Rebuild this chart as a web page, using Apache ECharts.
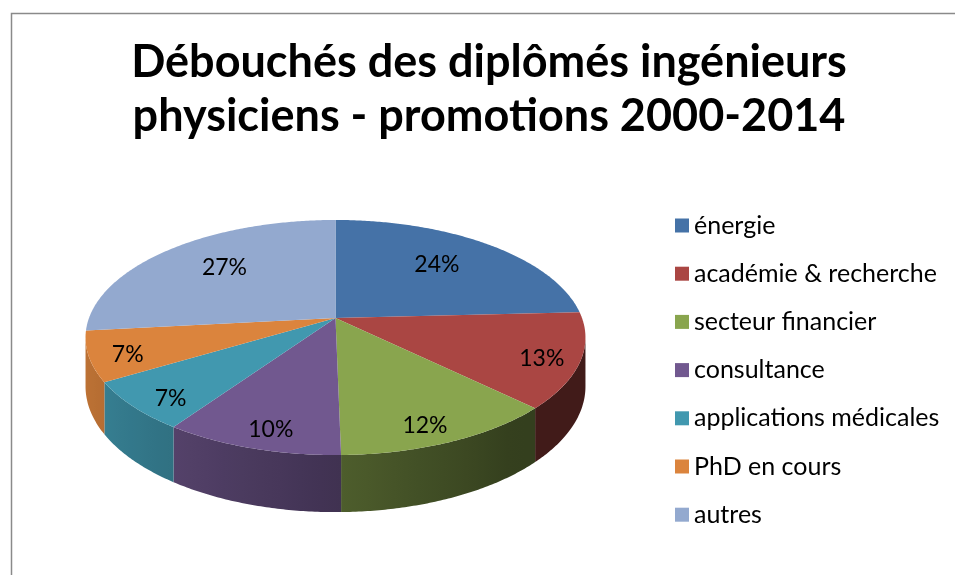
<!DOCTYPE html>
<html>
<head>
<meta charset="utf-8">
<script src="https://cdn.jsdelivr.net/npm/echarts@6/dist/echarts.min.js"></script>
<style>
  html, body { margin: 0; padding: 0; background: #fff; }
  #chart { width: 955px; height: 575px; }
</style>
</head>
<body>
<div id="chart"></div>
<script>
const categories = ['énergie', 'académie & recherche', 'secteur financier', 'consultance', 'applications médicales', 'PhD en cours', 'autres'];
const values = [24.2, 13.1, 12.4, 9.9, 6.8, 6.9, 26.7];
const colors = ['#4572A7', '#AA4643', '#89A54E', '#71588F', '#4198AF', '#DB843D', '#93A9CF'];

const total = values.reduce((a, b) => a + b, 0);
const starts = [];
let acc = 0;
values.forEach(v => { starts.push(acc); acc += v; });

// disc seen in perspective (Excel-like 3D pie)
const cx = 335.5, cy = 318, A = 246.5, B = 114.3, k = 0.166, H = 47.6;

function proj(t, r) {
  const s = Math.sin(t), c = Math.cos(t);
  const w = 1 + k * r * c;
  return [cx + A * r * s / w, cy - B * r * c / w];
}
function depth(t) { return H / (1 + k * Math.cos(t)); }

function shade(hex, f) {
  const n = parseInt(hex.slice(1), 16);
  const r = Math.round(((n >> 16) & 255) * f);
  const g = Math.round(((n >> 8) & 255) * f);
  const b = Math.round((n & 255) * f);
  return 'rgb(' + r + ',' + g + ',' + b + ')';
}
// lighter on the left side, darker on the right
function sideFactor(t) { return Math.min(0.88, Math.max(0.38, 0.57 - 0.3 * Math.sin(t))); }

function renderSlice(i) {
  return function (params, api) {
    const a0 = starts[i] / total * 2 * Math.PI;
    const a1 = (starts[i] + values[i]) / total * 2 * Math.PI;
    const children = [];

    // front wall
    const ts = Math.acos(-k), te = 2 * Math.PI - ts;
    const s0 = Math.max(a0, ts), s1 = Math.min(a1, te);
    if (s1 > s0) {
      const m = Math.max(2, Math.ceil((s1 - s0) / 0.01));
      const top = [], bot = [];
      for (let j = 0; j <= m; j++) {
        const t = s0 + (s1 - s0) * j / m;
        const p = proj(t, 1);
        top.push(p);
        bot.push([p[0], p[1] + depth(t)]);
      }
      const xr = top[0][0], xl = top[m][0];
      const stops = [];
      for (let j = m; j >= 0; j -= Math.max(1, Math.floor(m / 8))) {
        const t = s0 + (s1 - s0) * j / m;
        stops.push({ offset: xr - xl > 0.5 ? (top[j][0] - xl) / (xr - xl) : 0, color: shade(colors[i], sideFactor(t)) });
      }
      stops.push({ offset: 1, color: shade(colors[i], sideFactor(s0)) });
      children.push({
        type: 'polygon',
        shape: { points: top.concat(bot.reverse()) },
        style: {
          fill: new echarts.graphic.LinearGradient(xl, 0, Math.max(xr, xl + 1), 0, stops, true)
        },
        z2: 1
      });
    }

    // top face
    const pts = [[cx, cy]];
    const n = Math.max(2, Math.ceil((a1 - a0) / 0.01));
    for (let j = 0; j <= n; j++) pts.push(proj(a0 + (a1 - a0) * j / n, 1));
    children.push({ type: 'polygon', shape: { points: pts }, style: { fill: colors[i] }, z2: 2 });

    // percentage label: further out on the front half, pulled a bit toward the vertical axis
    let mid = (a0 + a1) / 2;
    mid -= 0.05 * Math.sin(2 * mid);
    const lp = proj(mid, 0.775 - 0.09 * Math.tanh(4 * Math.cos(mid)));
    children.push({
      type: 'text',
      x: lp[0],
      y: lp[1] + 1,
      style: {
        text: Math.round(values[i] / total * 100) + '%',
        fill: '#000',
        font: '23px Lato',
        align: 'center',
        verticalAlign: 'middle'
      },
      z2: 3
    });
    return { type: 'group', children: children };
  };
}

const chart = echarts.init(document.getElementById('chart'), null, { renderer: 'canvas' });

const option = {
  animation: false,
  color: colors,
  title: {
    text: 'Débouchés des diplômés ingénieurs\nphysiciens - promotions 2000-2014',
    left: 489,
    top: 35,
    textAlign: 'center',
    padding: 0,
    textStyle: {
      fontFamily: 'Lato',
      fontWeight: 'bold',
      fontSize: 45,
      lineHeight: 54,
      color: '#000'
    }
  },
  legend: {
    data: categories,
    orient: 'vertical',
    left: 675,
    top: 213,
    padding: 0,
    icon: 'rect',
    itemWidth: 14,
    itemHeight: 14,
    itemGap: 23.2,
    selectedMode: false,
    textStyle: { fontFamily: 'Lato', fontSize: 25, lineHeight: 24, color: '#000' }
  },
  graphic: [{
    type: 'rect',
    left: 9,
    top: 11,
    shape: { width: 960, height: 580 },
    style: { fill: 'none', stroke: '#8a8a8a', lineWidth: 1.5 },
    silent: true
  }],
  series: categories.map((name, i) => ({
    type: 'custom',
    name: name,
    coordinateSystem: 'none',
    silent: true,
    itemStyle: { color: colors[i] },
    data: [values[i]],
    renderItem: renderSlice(i)
  }))
};

chart.setOption(option);
window.addEventListener('resize', () => chart.resize());
</script>
</body>
</html>
